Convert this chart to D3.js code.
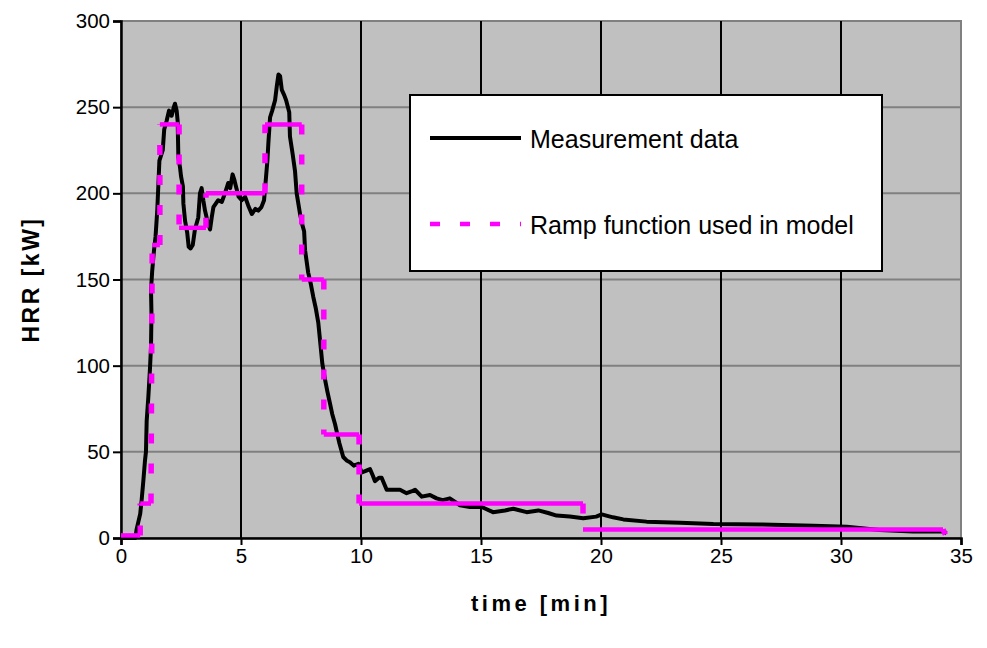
<!DOCTYPE html>
<html>
<head>
<meta charset="utf-8">
<script src="https://cdn.jsdelivr.net/npm/d3@7"></script>
<style>
  body { margin: 0; background: #fff; }
  text { font-family: Arial, "Liberation Sans", sans-serif; fill: #000; }
</style>
</head>
<body>
<svg id="chart" width="987" height="648"></svg>
<script>
// measured heat release rate (time in min, HRR in kW)
var measTime = [0, 0.6, 0.65, 0.8, 0.86, 0.93, 1.0, 1.04, 1.07, 1.14, 1.21, 1.25, 1.27, 1.25, 1.3, 1.375, 1.44, 1.51, 1.56, 1.6,
  1.74, 1.8, 1.9, 2.0, 2.11, 2.2, 2.25, 2.32, 2.36, 2.39, 2.46, 2.5, 2.58, 2.6, 2.67, 2.76, 2.82, 2.9, 2.99, 3.08,
  3.22, 3.29, 3.36, 3.43, 3.5, 3.6, 3.71, 3.78, 3.85, 4.05, 4.2, 4.33, 4.47, 4.55, 4.65, 4.72, 4.79, 4.9, 5.03, 5.17,
  5.3, 5.45, 5.6, 5.72, 5.85, 5.96, 6.04, 6.1, 6.14, 6.21, 6.3, 6.42, 6.49, 6.56, 6.63, 6.7, 6.8, 6.88, 7.01, 7.04,
  7.15, 7.25, 7.32, 7.46, 7.55, 7.63, 7.67, 7.8, 7.9, 8.01, 8.12, 8.22, 8.32, 8.39, 8.5, 8.6, 8.71, 8.8, 8.92, 9.0,
  9.1, 9.26, 9.4, 9.54, 9.7, 9.89, 10.03, 10.2, 10.375, 10.5, 10.58, 10.75, 10.86, 11.07, 11.3, 11.625, 11.9, 12.1, 12.25, 12.53,
  12.875, 13.15, 13.4, 13.7, 14.125, 14.54, 15.03, 15.5, 16.0, 16.35, 16.9, 17.39, 17.8, 18.15, 18.7, 19.26, 19.8, 20.03, 20.5, 20.93,
  21.9, 23.3, 24.68, 26.6, 28.85, 30.24, 31.6, 33.0, 34.26, 34.4];
var measHRR = [0, 0, 5, 14, 22, 33, 45, 50, 68, 82, 99, 111, 130, 144, 155, 167, 175, 190, 206, 219,
  225, 237, 242, 248, 245, 250, 252, 248, 242, 221, 215, 210, 204, 194, 184, 177, 169, 168, 170, 179,
  186, 200, 203, 196, 190, 184, 179, 186, 192, 196, 195, 200, 206, 203, 211, 208, 204, 198, 196, 198,
  193, 188, 191, 190, 192, 196, 209, 219, 229, 244, 248, 254, 262, 269, 268, 260, 257, 254, 247, 233,
  223, 213, 200, 188, 182, 178, 167, 154, 148, 140, 133, 125, 111, 101, 92, 85, 78, 72, 66, 61,
  55, 47, 45, 44, 42, 43, 38, 39, 40, 36, 33, 35, 35, 28, 28, 28, 26, 27, 28, 24,
  25, 23, 22, 23, 19, 18, 18, 15, 16, 17, 15, 16, 14.5, 13, 12.5, 11.5, 12.4, 13.7, 12, 10.8,
  9.5, 8.9, 8.1, 7.9, 7.1, 6.6, 4.6, 3.7, 3.7, 2.7];

// step-wise ramp used as model input
var rampTime = [0, 0.8, 0.8, 1.25, 1.3, 1.62, 1.62, 2.42, 2.42, 3.54, 3.54, 6.0, 6.0, 7.53, 7.53, 8.45, 8.45, 9.92, 9.92, 19.25, 19.25, 34.25, 34.35];
var rampHRR  = [1.5, 1.5, 20, 20, 170, 170, 240, 240, 180, 180, 200, 200, 240, 240, 150, 150, 60, 60, 20, 20, 5, 5, 2];

var xTicks = [0, 5, 10, 15, 20, 25, 30, 35];
var yTicks = [0, 50, 100, 150, 200, 250, 300];

var legendLabels = ['Measurement data', 'Ramp function used in model'];

var svg = d3.select('#chart');
var plotLeft = 121, plotTop = 21, plotW = 840, plotH = 517;

var x = d3.scaleLinear().domain([0, 35]).range([plotLeft, plotLeft + plotW]);
var y = d3.scaleLinear().domain([0, 300]).range([plotTop + plotH, plotTop]);

// plot area
svg.append('rect')
  .attr('x', plotLeft).attr('y', plotTop).attr('width', plotW).attr('height', plotH)
  .attr('fill', '#c0c0c0').attr('stroke', '#808080').attr('stroke-width', 2);

svg.append('g').selectAll('line').data(yTicks.slice(1))
  .enter().append('line')
  .attr('x1', plotLeft).attr('x2', plotLeft + plotW)
  .attr('y1', function(d) { return y(d); }).attr('y2', function(d) { return y(d); })
  .attr('stroke', '#808080').attr('stroke-width', 2);

svg.append('g').selectAll('line').data(xTicks.slice(1, -1))
  .enter().append('line')
  .attr('x1', function(d) { return x(d); }).attr('x2', function(d) { return x(d); })
  .attr('y1', plotTop).attr('y2', plotTop + plotH)
  .attr('stroke', '#000').attr('stroke-width', 2);

// axes
var xAxis = svg.append('g').attr('transform', 'translate(0,' + (plotTop + plotH) + ')')
  .call(d3.axisBottom(x).tickValues(xTicks).tickSize(7).tickPadding(3));
var yAxis = svg.append('g').attr('transform', 'translate(' + plotLeft + ',0)')
  .call(d3.axisLeft(y).tickValues(yTicks).tickSize(8).tickPadding(3));
[xAxis, yAxis].forEach(function(a) {
  a.select('.domain').attr('stroke', '#000').attr('stroke-width', 2.5);
  a.selectAll('.tick line').attr('stroke', '#000').attr('stroke-width', 2);
  a.selectAll('.tick text').attr('font-size', 20.5).attr('font-family', 'Arial, "Liberation Sans", sans-serif');
});

// measurement curve
var measData = measTime.map(function(t, i) { return [t, measHRR[i]]; });
var line = d3.line().x(function(d) { return x(d[0]); }).y(function(d) { return y(d[1]); });

svg.append('path').datum(measData)
  .attr('d', line)
  .attr('fill', 'none').attr('stroke', '#000').attr('stroke-width', 4)
  .attr('stroke-linejoin', 'round');

// ramp: horizontal parts solid, vertical parts dashed
var rampSegs = [];
for (var i = 1; i < rampTime.length; i++) {
  rampSegs.push([[rampTime[i - 1], rampHRR[i - 1]], [rampTime[i], rampHRR[i]]]);
}
svg.append('g').selectAll('path').data(rampSegs)
  .enter().append('path')
  .attr('d', line)
  .attr('fill', 'none').attr('stroke', '#ff00ff')
  .attr('stroke-width', function(d) { return d[0][1] === d[1][1] ? 4.5 : 5.5; })
  .attr('stroke-dasharray', function(d) { return d[0][1] === d[1][1] ? null : '10,20'; });

// legend
var lg = svg.append('g');
lg.append('rect').attr('x', 410).attr('y', 95).attr('width', 472).attr('height', 176)
  .attr('fill', '#fff').attr('stroke', '#000').attr('stroke-width', 2);
lg.append('line').attr('x1', 430).attr('x2', 521).attr('y1', 138).attr('y2', 138)
  .attr('stroke', '#000').attr('stroke-width', 4);
lg.append('line').attr('x1', 430).attr('x2', 521).attr('y1', 224).attr('y2', 224)
  .attr('stroke', '#ff00ff').attr('stroke-width', 4.5).attr('stroke-dasharray', '10,20');
lg.selectAll('text.lbl').data(legendLabels).enter().append('text')
  .attr('class', 'lbl')
  .attr('x', 530).attr('y', function(d, i) { return i ? 234 : 148; })
  .attr('font-size', 25)
  .text(function(d) { return d; });

// axis titles
svg.append('text')
  .attr('x', x(17.5)).attr('y', 611)
  .attr('text-anchor', 'middle').attr('font-size', 22).attr('font-weight', 'bold')
  .attr('letter-spacing', 3.5)
  .text('time [min]');
svg.append('text')
  .attr('transform', 'translate(39,' + y(150) + ') rotate(-90)')
  .attr('text-anchor', 'middle').attr('font-size', 23).attr('font-weight', 'bold')
  .attr('letter-spacing', 2.5)
  .text('HRR [kW]');
</script>
</body>
</html>
